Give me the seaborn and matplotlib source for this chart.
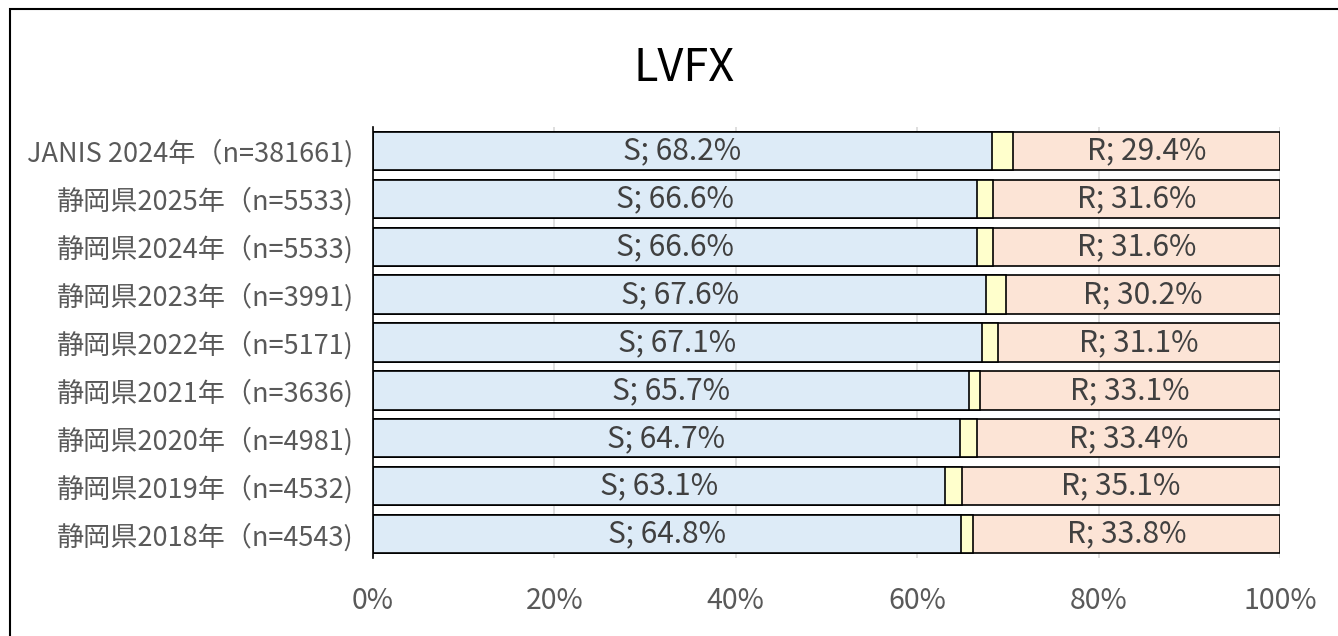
import numpy as np
import pandas as pd
import seaborn as sns
import matplotlib.pyplot as plt
from matplotlib.patches import Rectangle

# data
labels = ["JANIS 2024年（n=381661)", "静岡県2025年（n=5533)", "静岡県2024年（n=5533)",
          "静岡県2023年（n=3991)", "静岡県2022年（n=5171)", "静岡県2021年（n=3636)",
          "静岡県2020年（n=4981)", "静岡県2019年（n=4532)", "静岡県2018年（n=4543)"]
s_pct = [68.2, 66.6, 66.6, 67.6, 67.1, 65.7, 64.7, 63.1, 64.8]
r_pct = [29.4, 31.6, 31.6, 30.2, 31.1, 33.1, 33.4, 35.1, 33.8]
i_pct = [round(100 - s - r, 1) for s, r in zip(s_pct, r_pct)]

df = pd.DataFrame({"label": labels, "S": s_pct, "I": i_pct, "R": r_pct})
df["SI"] = df["S"] + df["I"]
df["SIR"] = df["SI"] + df["R"]

sns.set_style("white")
plt.rcParams['font.family'] = ['Noto Sans CJK JP', 'DejaVu Sans']
txt = "#595959"

fig = plt.figure(figsize=(13.38, 6.36), dpi=100)
ax = fig.add_axes([373/1338, 1-558/636, 907/1338, 431/636])

# stacked bars drawn back to front
sns.barplot(data=df, x="SIR", y="label", orient="h", color="#FCE4D6", edgecolor="black",
            linewidth=1.2, width=0.8, saturation=1, ax=ax, zorder=3)
sns.barplot(data=df, x="SI", y="label", orient="h", color="#FFFFCC", edgecolor="black",
            linewidth=1.2, width=0.8, saturation=1, ax=ax, zorder=3)
sns.barplot(data=df, x="S", y="label", orient="h", color="#DDEBF7", edgecolor="black",
            linewidth=1.2, width=0.8, saturation=1, ax=ax, zorder=3)

for i, row in df.iterrows():
    ax.text(row["S"] / 2, i, "S; {:.1f}%".format(row["S"]), ha="center", va="center",
            fontsize=21.5, color="#404040", zorder=5)
    ax.text(row["SI"] + row["R"] / 2, i, "R; {:.1f}%".format(row["R"]), ha="center", va="center",
            fontsize=21.5, color="#404040", zorder=5)

ax.set_xlim(0, 100)
ax.set_ylim(8.5, -0.5)
ax.set_xticks([0, 20, 40, 60, 80, 100])
ax.set_xticklabels(["{}%".format(v) for v in [0, 20, 40, 60, 80, 100]])
ax.grid(axis="x", color="#D9D9D9", linewidth=1.2, zorder=0)
ax.grid(axis="y", visible=False)
ax.set_axisbelow(True)
ax.set_xlabel("")
ax.set_ylabel("")
for sp in ["top", "right", "bottom"]:
    ax.spines[sp].set_visible(False)
ax.spines["left"].set_color("black")
ax.spines["left"].set_linewidth(1.2)
ax.spines["left"].set_zorder(4)
ax.tick_params(axis="x", length=0, pad=20, labelsize=20.5, labelcolor=txt)
ax.tick_params(axis="y", length=0, pad=14, labelsize=19.5, labelcolor=txt)

fig.text(684/1338, 1-68/636, "LVFX", ha="center", va="center", fontsize=32.5, color="black")

# outer frame (right and bottom edges run off the image)
fig.patches.append(Rectangle((10/1338, -0.1), 1.2, 1-9/636+0.1, transform=fig.transFigure,
                             fill=False, edgecolor="black", linewidth=1.5))

fig.savefig("out.png", dpi=100)
